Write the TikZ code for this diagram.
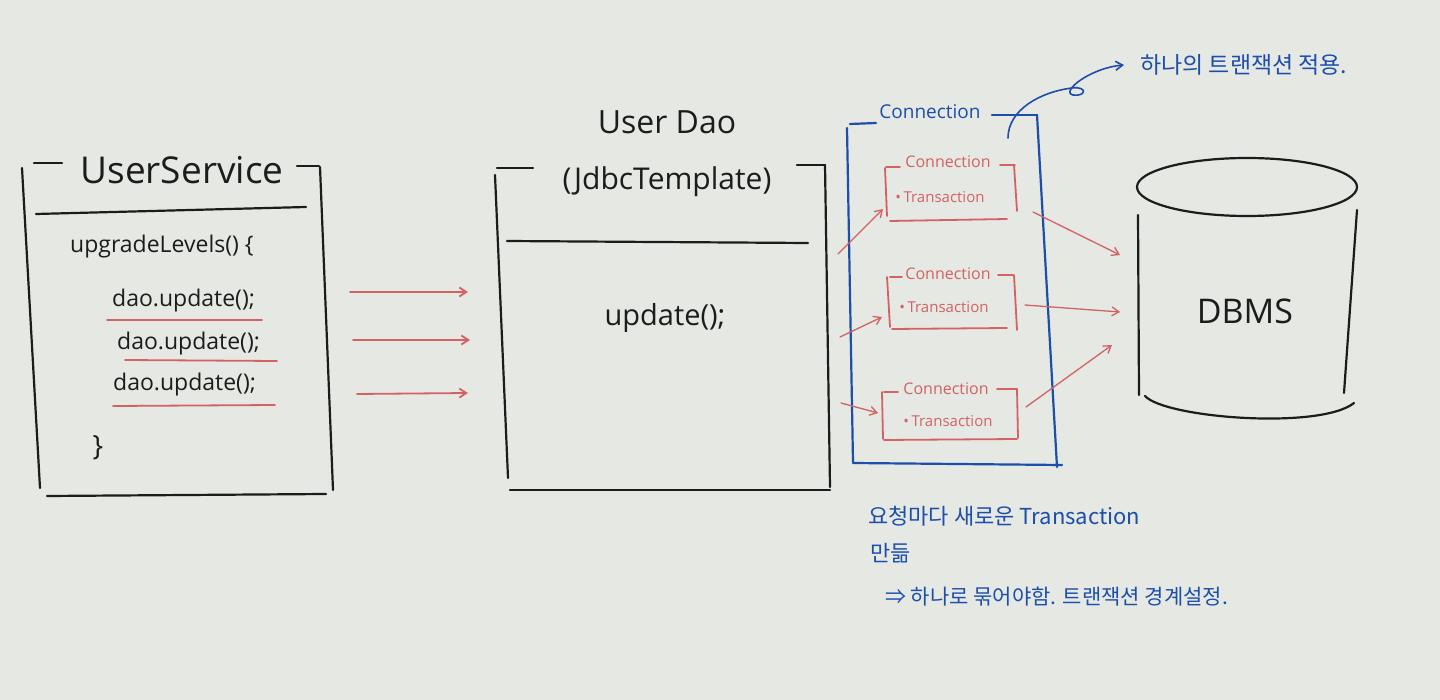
\documentclass[tikz,border=0pt]{standalone}
\usepackage{fontspec}
\setmainfont{Open Sans}
\newfontfamily\kr{Noto Sans CJK KR}
\usetikzlibrary{arrows.meta}
\definecolor{bg}{RGB}{229,232,227}
\definecolor{ink}{RGB}{28,28,28}
\definecolor{rink}{RGB}{210,98,100}
\definecolor{bink}{RGB}{28,78,170}
\begin{document}
\begin{tikzpicture}[x=1pt,y=-1pt,
  blk/.style={draw=ink,line width=2.2pt,line cap=round},
  rln/.style={draw=rink,line width=1.8pt,line cap=round},
  bln/.style={draw=bink,line width=2.2pt,line cap=round},
  rarr/.style={rln,-{Straight Barb[length=7pt,width=9pt]}},
  btxt/.style={text=ink,inner sep=0pt},
  rtxt/.style={text=rink,inner sep=0pt},
  ktxt/.style={text=bink,inner sep=0pt,anchor=west},
  fs/.style={font=\fontsize{#1}{#1}\selectfont}
]
\fill[bg] (0,0) rectangle (1440,700);
\useasboundingbox (0,0) rectangle (1440,700);

% ---------- UserService ----------
\node[btxt,fs=37] (us) at (182,170) {UserService};
\draw[blk] (34,163) -- (62,163);
\draw[blk] (297,166) -- (319,166);
\draw[blk] (22,168) -- (40,488);
\draw[blk] (320,167) -- (333,490);
\draw[blk] (47,496) -- (326,494);
\draw[blk] (36,214) -- (306,207);
\node[btxt,fs=23,anchor=west] (ul) at (70,247) {upgradeLevels() \{};
\node[btxt,fs=23,anchor=west] (d1) at (112,301) {dao.update();};
\node[btxt,fs=23,anchor=west] (d2) at (117,344) {dao.update();};
\node[btxt,fs=23,anchor=west] (d3) at (113,385) {dao.update();};
\node[btxt,fs=28] (cb) at (98,448) {\}};
\draw[rln] (107,320) -- (262,320);
\draw[rln] (125,360) -- (277,361);
\draw[rln] (113,406) -- (275,405);

% ---------- calls ----------
\coordinate (c1s) at (350,292); \coordinate (c1e) at (468,292);
\coordinate (c2s) at (353,340); \coordinate (c2e) at (470,340);
\coordinate (c3s) at (357,394); \coordinate (c3e) at (468,393);
\draw[rarr] (c1s) -- (c1e);
\draw[rarr] (c2s) -- (c2e);
\draw[rarr] (c3s) -- (c3e);

% ---------- UserDao ----------
\node[btxt,fs=32] (ud) at (667,122) {User Dao};
\node[btxt,fs=30] (jt) at (667,182) {(JdbcTemplate)};
\draw[blk] (497,168) -- (533,168);
\draw[blk] (797,165) -- (825,165);
\draw[blk] (495,175) -- (508,478);
\draw[blk] (825,165) -- (830,487);
\draw[blk] (510,490) -- (830,490);
\draw[blk] (507,241) -- (808,243);
\node[btxt,fs=29] (up) at (665,318) {update();};

% ---------- Connection (outer, blue) ----------
\node[text=bink,inner sep=0pt,fs=19] (cn) at (930,112) {Connection};
\draw[bln] (850,124) -- (876,123);
\draw[bln] (992,115) -- (1037,115);
\draw[bln] (847,128) -- (853,462);
\draw[bln] (1037,115) -- (1057,467);
\draw[bln] (853,463) -- (1062,465);

% inner box 1
\node[rtxt,fs=16] (t1) at (948,162) {Connection};
\node[rtxt,fs=15] (x1) at (940,197) {\textbullet\,Transaction};
\draw[rln] (886,167) -- (900,167);
\draw[rln] (1000,165) -- (1015,165);
\draw[rln] (885,168) -- (887,216);
\draw[rln] (1014,165) -- (1017,211);
\draw[rln] (890,221) -- (1007,219);
% inner box 2
\node[rtxt,fs=16] (t2) at (948,274) {Connection};
\node[rtxt,fs=15] (x2) at (944,307) {\textbullet\,Transaction};
\draw[rln] (890,277) -- (902,277);
\draw[rln] (998,275) -- (1013,275);
\draw[rln] (887,277) -- (890,327);
\draw[rln] (1014,275) -- (1017,330);
\draw[rln] (892,329) -- (1007,328);
% inner box 3
\node[rtxt,fs=16] (t3) at (946,389) {Connection};
\node[rtxt,fs=15] (x3) at (948,421) {\textbullet\,Transaction};
\draw[rln] (884,392) -- (898,392);
\draw[rln] (997,389) -- (1017,389);
\draw[rln] (882,392) -- (883,439);
\draw[rln] (1017,389) -- (1018,438);
\draw[rln] (884,440) -- (1017,439);

% arrows into connections
\coordinate (i1s) at (838,254); \coordinate (i1e) at (883,209);
\coordinate (i2s) at (840,337); \coordinate (i2e) at (882,317);
\coordinate (i3s) at (841,403); \coordinate (i3e) at (878,413);
\draw[rarr,line width=1.3pt] (i1s) -- (i1e);
\draw[rarr,line width=1.3pt] (i2s) -- (i2e);
\draw[rarr,line width=1.3pt] (i3s) -- (i3e);

% ---------- DBMS ----------
\draw[blk] (1247,187) ellipse [x radius=110, y radius=29];
\draw[blk] (1138,215) -- (1139,395);
\draw[blk] (1357,210) -- (1344,393);
\draw[blk] (1145,396) .. controls (1165,418) and (1320,430) .. (1354,403);
\node[btxt,fs=34] (db) at (1245,311) {DBMS};

% arrows out to DB
\coordinate (o1s) at (1033,212); \coordinate (o1e) at (1120,255);
\coordinate (o2s) at (1025,305); \coordinate (o2e) at (1120,312);
\coordinate (o3s) at (1026,407); \coordinate (o3e) at (1112,345);
\draw[rarr,line width=1.3pt] (o1s) -- (o1e);
\draw[rarr,line width=1.3pt] (o2s) -- (o2e);
\draw[rarr,line width=1.3pt] (o3s) -- (o3e);

% ---------- notes ----------
\node[ktxt,fs=23] (n1) at (1140,65) {\kr 하나의 트랜잭션 적용.};
\coordinate (bs) at (1008,138);
\draw[bln,line width=1.6pt,-{Straight Barb[length=7pt,width=9pt]}]
  (bs) .. controls (1008,110) and (1040,92) .. (1072,88)
       .. controls (1088,86) and (1086,97) .. (1073,95)
       .. controls (1060,92) and (1090,68) .. ([xshift=-16pt]n1.west);
\node[ktxt,fs=22] (n2) at (868,516) {\kr 요청마다 새로운 Transaction};
\node[ktxt,fs=22] (n3) at (870,553) {\kr 만듦};
\node[ktxt,fs=21] (n4) at (885,597) {\kr ⇒ 하나로 묶어야함. 트랜잭션 경계설정.};
\end{tikzpicture}
\end{document}
